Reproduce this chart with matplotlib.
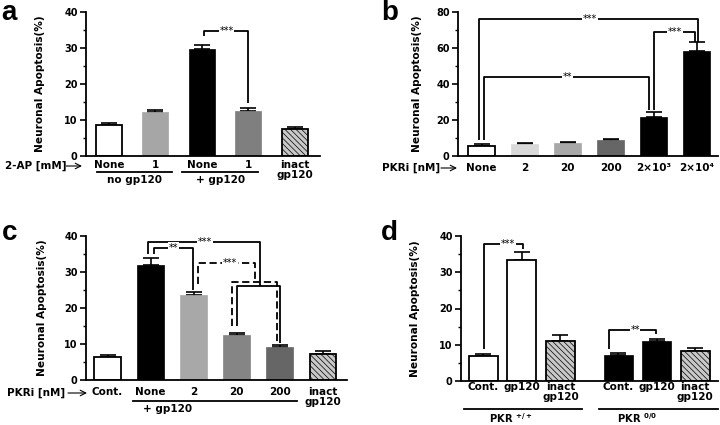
import matplotlib
matplotlib.use('Agg')
import matplotlib.pyplot as plt
from matplotlib.ticker import MultipleLocator, AutoMinorLocator

W, H = 720, 425
plt.rcParams['font.family'] = ['DejaVu Sans']
plt.rcParams['font.weight'] = 'bold'
plt.rcParams['hatch.linewidth'] = 0.5

# ---------------- data ----------------
a_labels = ['None', '1', 'None', '1', 'inact\ngp120']
a_vals = [8.7, 12.2, 29.7, 12.4, 7.4]
a_errs = [0.6, 0.7, 1.0, 1.0, 0.7]
a_colors = ['white', '#a6a6a6', 'black', '#7f7f7f', '#c8c8c8']

b_labels = ['None', '2', '20', '200', '2×10³', '2×10⁴']
b_vals = [5.5, 6.7, 7.0, 8.8, 21.5, 58.5]
b_errs = [1.0, 0.8, 0.6, 0.8, 3.0, 5.0]
b_colors = ['white', '#d9d9d9', '#a8a8a8', '#666666', 'black', 'black']

c_labels = ['Cont.', 'None', '2', '20', '200', 'inact\ngp120']
c_vals = [6.3, 32.0, 23.7, 12.4, 9.1, 7.2]
c_errs = [0.6, 2.0, 0.7, 0.7, 0.7, 0.8]
c_colors = ['white', 'black', '#a8a8a8', '#858585', '#666666', '#c8c8c8']

d_labels = ['Cont.', 'gp120', 'inact\ngp120', 'Cont.', 'gp120', 'inact\ngp120']
d_pos = [0, 1, 2, 3.5, 4.5, 5.5]
d_vals = [7.0, 33.3, 11.1, 7.1, 10.9, 8.4]
d_errs = [0.5, 2.2, 1.7, 0.7, 0.6, 0.7]
d_colors = ['white', 'white', '#c8c8c8', 'black', 'black', '#c8c8c8']

fig = plt.figure(figsize=(7.2, 4.25), dpi=100)


def px(x, y):
    return (x / W, 1 - y / H)


def add_ax(x0, x1, ytop, ybot):
    return fig.add_axes([x0 / W, 1 - ybot / H, (x1 - x0) / W, (ybot - ytop) / H])


def style(ax, ymax, major, xlim, lab_off, wpx, pad):
    ax.set_ylim(0, ymax)
    ax.set_xlim(*xlim)
    ax.yaxis.set_major_locator(MultipleLocator(major))
    ax.yaxis.set_minor_locator(AutoMinorLocator(2))
    for s in ['top', 'right']:
        ax.spines[s].set_visible(False)
    for s in ['left', 'bottom']:
        ax.spines[s].set_linewidth(1.3)
    ax.tick_params(axis='y', which='major', direction='out', length=4, width=1.2,
                   labelsize=7, pad=2)
    ax.tick_params(axis='y', which='minor', direction='out', length=2, width=1)
    ax.tick_params(axis='x', length=0, labelsize=7.5, pad=pad)
    ax.set_ylabel('Neuronal Apoptosis(%)', fontsize=7.6, fontweight='bold')
    ax.yaxis.set_label_coords(-lab_off / wpx, 0.5)
    ax.patch.set_alpha(0)


def bars(ax, pos, vals, errs, colors, width, labels):
    bs = ax.bar(pos, vals, width, color=colors, zorder=2)
    for b, c in zip(bs, colors):
        if c == 'white':
            b.set_edgecolor('black'); b.set_linewidth(1.3)
        elif c == '#c8c8c8':
            b.set_edgecolor('black'); b.set_linewidth(1.3)
            b.set_hatch('\\\\\\\\\\\\')
        else:
            b.set_edgecolor(c); b.set_linewidth(0.5)
    ax.errorbar(pos, vals, yerr=[[0] * len(errs), errs], fmt='none', ecolor='black',
                elinewidth=1.2, capsize=5.5, capthick=1.2, zorder=1)
    ax.set_xticks(pos)
    ax.set_xticklabels(labels, fontweight='bold', linespacing=1.0)


def seg(ax, xs, ys, ls='-'):
    ax.plot(xs, ys, color='black', lw=1.3, ls=ls, clip_on=False, zorder=3,
            solid_capstyle='butt', dash_capstyle='butt')


def star(ax, x, y, s):
    ax.text(x, y, s, ha='center', va='center', fontsize=7, fontweight='normal',
            bbox=dict(fc='white', ec='none', pad=0.4), zorder=4)


def bracket(ax, xl, xr, top, yl, yr, label, tx=None, ls='-'):
    seg(ax, [xl, xl, xr, xr], [yl, top, top, yr], ls)
    star(ax, tx if tx is not None else (xl + xr) / 2, top, label)


# ---------------- panel a ----------------
axa = add_ax(86, 320, 12, 156)
bars(axa, list(range(5)), a_vals, a_errs, a_colors, 0.56, a_labels)
style(axa, 40, 10, (-0.495, 4.54), 41, 234, 3)
bracket(axa, 2.04, 3.0, 34.8, 33.3, 14.6, '***', tx=2.53)
tr = axa.get_xaxis_transform()
axa.plot([-0.26, 1.35], [-0.111, -0.111], color='black', lw=1.3, transform=tr, clip_on=False)
axa.plot([1.57, 3.2], [-0.111, -0.111], color='black', lw=1.3, transform=tr, clip_on=False)
axa.text(0.55, -0.17, 'no gp120', transform=tr, ha='center', va='center', fontsize=7.5)
axa.text(2.39, -0.17, '+ gp120', transform=tr, ha='center', va='center', fontsize=7.5)
fig.text(*px(5, 166), '2-AP [mM]', ha='left', va='center', fontsize=7.5)
axa.annotate('', xy=px(82, 166), xytext=px(66, 166), xycoords='figure fraction',
             textcoords='figure fraction', annotation_clip=False,
             arrowprops=dict(arrowstyle='->', lw=0.8, color='black', shrinkA=0, shrinkB=0))

# ---------------- panel b ----------------
axb = add_ax(458, 718, 12, 156)
bars(axb, list(range(6)), b_vals, b_errs, b_colors, 0.63, b_labels)
style(axb, 80, 20, (-0.55, 5.5), 36, 260, 5)
bracket(axb, -0.06, 5.03, 76, 9.0, 63.6, '***', tx=2.52)
bracket(axb, 0.05, 3.89, 43.7, 9.0, 25.3, '**', tx=2.0)
bracket(axb, 4.01, 4.97, 68.7, 25.3, 63.6, '***', tx=4.5)
fig.text(*px(382, 168), 'PKRi [nM]', ha='left', va='center', fontsize=7.5)
axb.annotate('', xy=px(457, 168), xytext=px(441, 168), xycoords='figure fraction',
             textcoords='figure fraction', annotation_clip=False,
             arrowprops=dict(arrowstyle='->', lw=0.8, color='black', shrinkA=0, shrinkB=0))

# ---------------- panel c ----------------
axc = add_ax(86, 347, 236, 380)
bars(axc, list(range(6)), c_vals, c_errs, c_colors, 0.62, c_labels)
style(axc, 40, 10, (-0.5, 5.56), 39, 261, 5)
dash = (0, (4, 2))
# ** None vs 2
bracket(axc, 1.08, 1.99, 36.75, 35.0, 25.0, '**', tx=1.53)
# *** None vs 20/200 (solid)
seg(axc, [0.93, 0.93, 3.54, 3.54], [35.0, 38.3, 38.3, 26.1])
star(axc, 2.26, 38.3, '***')
seg(axc, [3.01, 3.01, 4.01, 4.01], [15.0, 26.1, 26.1, 10.4])
# *** 2 vs 20/200 (dashed)
seg(axc, [2.11, 2.11, 3.43, 3.43], [26.8, 32.6, 32.6, 27.2], ls=dash)
star(axc, 2.84, 32.6, '***')
seg(axc, [2.90, 2.90, 3.93, 3.93], [15.0, 27.2, 27.2, 10.4], ls=dash)
trc = axc.get_xaxis_transform()
axc.plot([0.59, 4.4], [-0.146, -0.146], color='black', lw=1.3, transform=trc, clip_on=False)
axc.text(1.4, -0.2, '+ gp120', transform=trc, ha='center', va='center', fontsize=7.5)
fig.text(*px(7, 393), 'PKRi [nM]', ha='left', va='center', fontsize=7.5)
axc.annotate('', xy=px(87, 393), xytext=px(68, 393), xycoords='figure fraction',
             textcoords='figure fraction', annotation_clip=False,
             arrowprops=dict(arrowstyle='->', lw=0.8, color='black', shrinkA=0, shrinkB=0))

# ---------------- panel d ----------------
axd = add_ax(461, 718, 236, 381)
bars(axd, d_pos, d_vals, d_errs, d_colors, 0.75, d_labels)
style(axd, 40, 10, (-0.58, 6.09), 41, 257, 1)
bracket(axd, 0.01, 1.03, 37.7, 8.9, 36.5, '***', tx=0.64)
bracket(axd, 3.25, 4.48, 14.0, 8.9, 13.0, '**', tx=3.94)
trd = axd.get_xaxis_transform()
axd.plot([-0.51, 2.56], [-0.193, -0.193], color='black', lw=1.3, transform=trd, clip_on=False)
axd.plot([3.0, 6.09], [-0.193, -0.193], color='black', lw=1.3, transform=trd, clip_on=False)
axd.text(0.71, -0.255, r'PKR $^{\mathbf{+/+}}$', transform=trd, ha='center', va='center', fontsize=7.2)
axd.text(3.99, -0.255, r'PKR $^{\mathbf{0/0}}$', transform=trd, ha='center', va='center', fontsize=7.2)

# panel letters
for (x, y), s in zip([(1, 20), (381, 20), (2, 240), (381, 240)], ['a', 'b', 'c', 'd']):
    fig.text(*px(x, y), s, ha='left', va='baseline', fontsize=20, fontweight='bold',
             family=['Liberation Sans', 'DejaVu Sans'])

fig.savefig('out.png', dpi=100)
